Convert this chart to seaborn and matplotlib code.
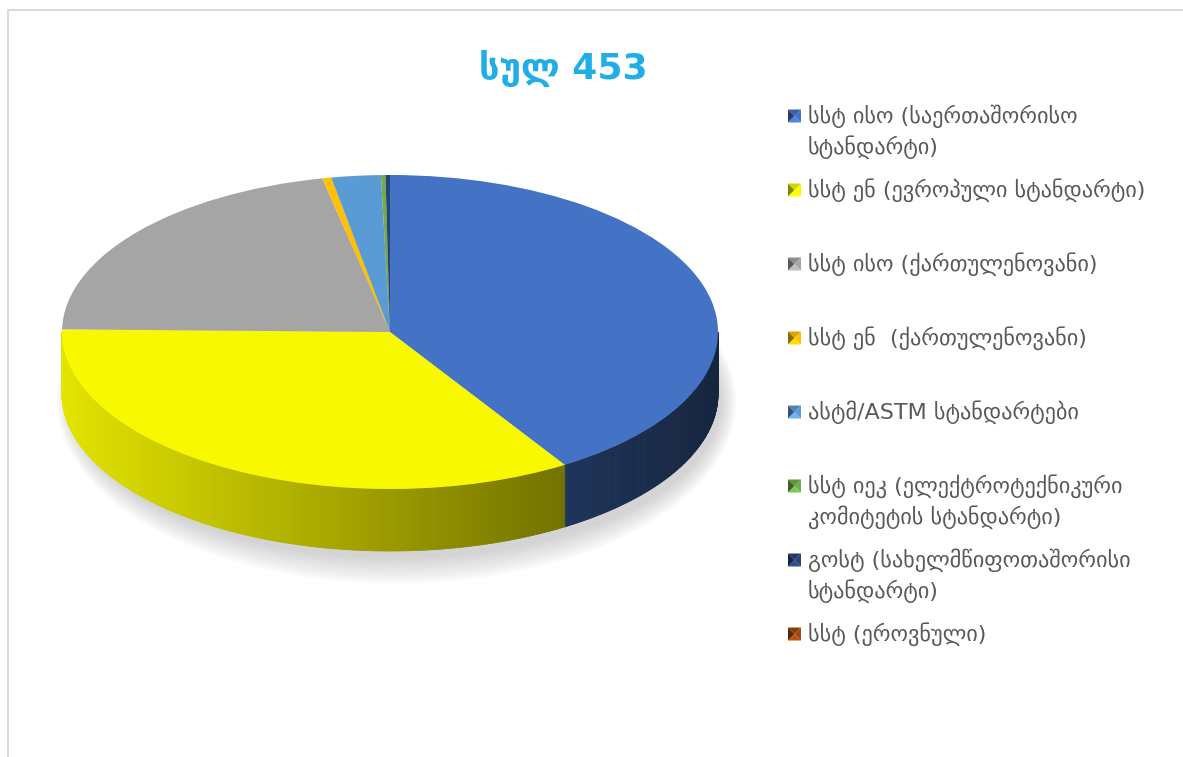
import textwrap
import numpy as np
import matplotlib
matplotlib.use("Agg")
import matplotlib.pyplot as plt
from matplotlib.patches import Polygon, Ellipse, Rectangle
from matplotlib.colors import to_rgb
import seaborn as sns

# data
categories = [
    "სსტ ისო (საერთაშორისო სტანდარტი)",
    "სსტ ენ (ევროპული სტანდარტი)",
    "სსტ ისო (ქართულენოვანი)",
    "სსტ ენ  (ქართულენოვანი)",
    "ასტმ/ASTM სტანდარტები",
    "სსტ იეკ (ელექტროტექნიკური კომიტეტის სტანდარტი)",
    "გოსტ (სახელმწიფოთაშორისი სტანდარტი)",
    "სსტ (ეროვნული)",
]
counts = [186, 155, 97, 2, 11, 1, 1, 0]
colors = ["#4472C4", "#F8F800", "#A5A5A5", "#FFC000",
          "#5B9BD5", "#70AD47", "#264478", "#9E480E"]
title_word = "სულ"

sns.set_theme(style="white")
plt.rcParams['font.family'] = ['DejaVu Sans']

W, H = 1183, 757
fig = plt.figure(figsize=(W / 100, H / 100), dpi=100)
fig.patch.set_facecolor("white")


def fx(x):
    return x / W


def fy(y):
    return 1 - y / H


# chart border (light gray, open on right/bottom)
fig.add_artist(Rectangle((fx(8), fy(790)), fx(1200), 780 / H, transform=fig.transFigure,
                         fill=False, edgecolor="#D9D9D9", linewidth=1.4))

# pie axes: unit circle -> ellipse of a x b pixels
cx, cy, a, b = 390, 332, 328, 157
depth = 62 / b
xl, yb, yt = 1.15, -1.9, 1.3
ax = fig.add_axes([fx(cx - xl * a), fy(cy - yb * b), 2 * xl * a / W, (yt - yb) * b / H])

ax.pie(counts, colors=colors, startangle=90, counterclock=False, radius=1,
       wedgeprops=dict(linewidth=0, zorder=3))
ax.set_aspect("auto")
ax.set_xlim(-xl, xl)
ax.set_ylim(yb, yt)
ax.axis("off")

# soft shadow
for i in range(10):
    ax.add_patch(Ellipse((0.02, -depth - 0.05), 1.98 + 0.01 * i, 2.0 + 0.035 * i,
                         facecolor="#808080", alpha=0.035, linewidth=0, zorder=0))

# side walls (front half only), shaded from left to right
total = sum(counts)
bounds = 90 - 360 * np.concatenate([[0], np.cumsum(counts)]) / total
for k, col in enumerate(colors):
    hi = min(bounds[k], 0)
    lo = max(bounds[k + 1], -180)
    if hi <= lo:
        continue
    base = np.array(to_rgb(col))
    ts = np.linspace(lo, hi, max(2, int((hi - lo) * 2)))
    for t1, t2 in zip(ts[:-1], ts[1:]):
        r1, r2 = np.radians(t1), np.radians(t2)
        c = np.cos((r1 + r2) / 2)
        shade = np.clip(base * (0.62 - 0.3 * c), 0, 1)
        pts = [(np.cos(r1), np.sin(r1)), (np.cos(r2), np.sin(r2)),
               (np.cos(r2), np.sin(r2) - depth), (np.cos(r1), np.sin(r1) - depth)]
        ax.add_patch(Polygon(pts, closed=True, facecolor=shade, edgecolor=shade,
                             linewidth=0.6, zorder=1))

# title
fig.text(fx(563), fy(68), f"{title_word} {total}", ha="center", va="center",
         fontsize=26, fontweight="bold", color="#1FAFE6")

# legend
x_mark, x_text, y0, step, line_h, ms = 788, 808, 116, 74.0, 31, 13
for i, (lab, col) in enumerate(zip(categories, colors)):
    y = y0 + step * i
    base = np.array(to_rgb(col))
    x0, x1 = x_mark, x_mark + ms
    ya, yb2 = y - ms / 2, y + ms / 2
    c = ((x0 + x1) / 2, y)
    tris = [
        ([(x0, ya), (x0, yb2), c], 0.55),
        ([(x0, ya), (x1, ya), c], 0.85),
        ([(x1, ya), (x1, yb2), c], 1.0),
        ([(x0, yb2), (x1, yb2), c], 1.15),
    ]
    for pts, f in tris:
        fig.add_artist(Polygon([(fx(px), fy(py)) for px, py in pts], closed=True,
                               transform=fig.transFigure,
                               facecolor=np.clip(base * f, 0, 1), linewidth=0))
    for k, line in enumerate(textwrap.wrap(lab, width=28, drop_whitespace=True)):
        fig.text(fx(x_text), fy(y + k * line_h), line, ha="left", va="center",
                 fontsize=16, color="#595959")

fig.savefig("out.png", dpi=100)
